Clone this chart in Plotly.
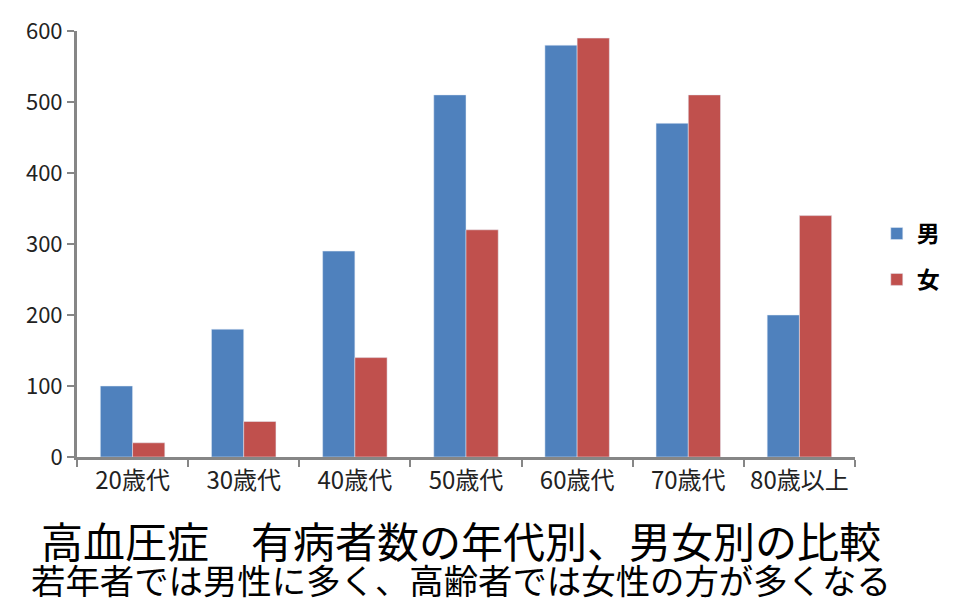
import plotly.graph_objects as go

categories = ["20歳代", "30歳代", "40歳代", "50歳代", "60歳代", "70歳代", "80歳以上"]
male = [100, 180, 290, 510, 580, 470, 200]
female = [20, 50, 140, 320, 590, 510, 340]
y_ticks = [0, 100, 200, 300, 400, 500, 600]

title_text = "高血圧症　有病者数の年代別、男女別の比較"
subtitle_text = "若年者では男性に多く、高齢者では女性の方が多くなる"

FONT = "Noto Sans CJK JP"

fig = go.Figure()
fig.add_trace(go.Bar(x=categories, y=male, name="<b>男</b>", marker_color="#4F81BD",
                     legendgroup="m"))
fig.add_trace(go.Bar(x=categories, y=female, name="<b>女</b>", marker_color="#C0504D",
                     legendgroup="f"))

caption = (f"<span style='font-size:42px'>{title_text}</span><br>"
           f"<span style='font-size:34.4px'>{subtitle_text}</span>")

fig.update_layout(
    width=960, height=604,
    margin=dict(l=77, r=105, t=31, b=147, autoexpand=False),
    paper_bgcolor="white", plot_bgcolor="white",
    barmode="group", bargap=0.42, bargroupgap=0,
    font=dict(family=FONT, color="#222222"),
    showlegend=True,
    legend=dict(x=1.028, y=0.575, xanchor="left", yanchor="top",
                font=dict(size=23, color="black", family=FONT),
                traceorder="grouped", tracegroupgap=13, itemwidth=30,
                bgcolor="rgba(0,0,0,0)"),
    xaxis=dict(showline=True, linecolor="#868686", linewidth=3,
               ticks="outside", tickcolor="#868686", tickwidth=2, ticklen=7,
               tickson="boundaries", showgrid=False,
               tickfont=dict(size=24, family=FONT, color="#222222")),
    yaxis=dict(range=[0, 600], tickvals=y_ticks, showline=True, linecolor="#868686",
               linewidth=3, ticks="outside", tickcolor="#868686", tickwidth=2,
               ticklen=7, showgrid=False, zeroline=False,
               tickfont=dict(size=22, family=FONT, color="#222222")),
    annotations=[
        dict(text=caption, xref="paper", yref="paper", x=0.4936, y=-0.233,
             xanchor="center", yanchor="middle", align="center", showarrow=False,
             font=dict(size=28, color="black", family=FONT)),
    ],
)

fig.write_html("out.html")
